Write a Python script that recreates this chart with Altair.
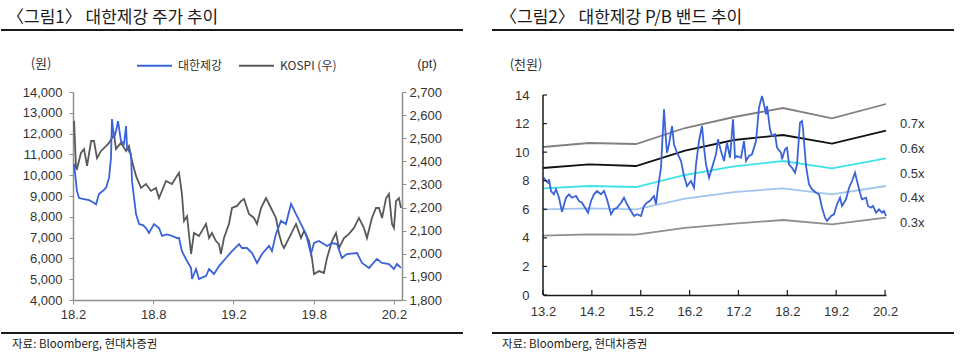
import altair as alt
import pandas as pd

FONT = "Liberation Sans, Noto Sans CJK KR"
KFONT = "Noto Sans CJK KR, Liberation Sans"

# ---------------- left chart data (decimal years) ----------------
stock_x = [2018.090, 2018.108, 2018.121, 2018.152, 2018.183, 2018.208, 2018.227, 2018.245, 2018.270, 2018.289,
           2018.308, 2018.320, 2018.326, 2018.339, 2018.351, 2018.364, 2018.382, 2018.401, 2018.414, 2018.420,
           2018.445, 2018.451, 2018.476, 2018.495, 2018.519, 2018.538, 2018.557, 2018.588, 2018.619, 2018.638,
           2018.669, 2018.700, 2018.731, 2018.744, 2018.762, 2018.787, 2018.819, 2018.825, 2018.850, 2018.868,
           2018.893, 2018.912, 2018.931, 2018.962, 2018.993, 2019.037, 2019.074, 2019.118, 2019.136, 2019.167,
           2019.199, 2019.230, 2019.261, 2019.305, 2019.323, 2019.348, 2019.379, 2019.410, 2019.442, 2019.473,
           2019.504, 2019.535, 2019.566, 2019.585, 2019.616, 2019.666, 2019.697, 2019.728, 2019.759, 2019.790,
           2019.853, 2019.884, 2019.928, 2019.977, 2020.009, 2020.052, 2020.083, 2020.102, 2020.127]
stock_v = [10540, 9240, 8900, 8850, 8800, 8700, 8600, 9100, 9250, 9400,
           9870, 10830, 12700, 11800, 12100, 12600, 11650, 11500, 12360, 11300,
           11000, 9720, 8130, 7650, 7600, 7460, 7220, 7650, 7460, 7080,
           7150, 7080, 6980, 6980, 6350, 5970, 5540, 5010, 5490, 5010,
           5100, 5150, 5490, 5250, 5630, 6020, 6350, 6690, 6500, 6500,
           6260, 5780, 6210, 6600, 6350, 7170, 7800, 7650, 8620, 8130,
           7650, 7170, 6210, 6740, 6840, 6600, 6740, 6690, 6020, 6210,
           6260, 5780, 5540, 5970, 5780, 5730, 5490, 5730, 5540]

kospi_x = [2018.090, 2018.102, 2018.108, 2018.133, 2018.152, 2018.171, 2018.196, 2018.214, 2018.233, 2018.258,
           2018.289, 2018.308, 2018.326, 2018.339, 2018.351, 2018.382, 2018.414, 2018.432, 2018.451, 2018.476,
           2018.507, 2018.538, 2018.569, 2018.600, 2018.619, 2018.663, 2018.700, 2018.731, 2018.744, 2018.762,
           2018.775, 2018.794, 2018.819, 2018.837, 2018.868, 2018.887, 2018.912, 2018.931, 2018.949, 2018.974,
           2018.993, 2019.005, 2019.024, 2019.055, 2019.074, 2019.105, 2019.130, 2019.149, 2019.180, 2019.211,
           2019.230, 2019.255, 2019.286, 2019.317, 2019.348, 2019.367, 2019.385, 2019.398, 2019.429, 2019.473,
           2019.504, 2019.523, 2019.554, 2019.572, 2019.585, 2019.616, 2019.647, 2019.666, 2019.697, 2019.722,
           2019.741, 2019.772, 2019.803, 2019.834, 2019.865, 2019.896, 2019.915, 2019.946, 2019.971, 2019.990,
           2020.009, 2020.034, 2020.052, 2020.071, 2020.083, 2020.096, 2020.114, 2020.127]
kospi_v = [2575, 2371, 2367, 2436, 2453, 2380, 2488, 2488, 2414, 2445,
           2466, 2480, 2501, 2518, 2453, 2480, 2445, 2466, 2401, 2337,
           2285, 2302, 2272, 2285, 2241, 2315, 2302, 2337, 2350, 2259,
           2142, 2163, 1999, 2090, 2077, 2099, 2129, 2068, 2090, 2055,
           2042, 1999, 2068, 2129, 2198, 2207, 2228, 2237, 2172, 2155,
           2129, 2198, 2241, 2198, 2155, 2086, 2042, 2025, 2068, 2129,
           2068, 2099, 2055, 1982, 1912, 1925, 1917, 1982, 2055, 2090,
           2025, 2068, 2086, 2112, 2155, 2112, 2068, 2155, 2198, 2198,
           2155, 2241, 2259, 2129, 2112, 2228, 2241, 2198]

left_xticks = [2018.0833, 2018.5833, 2019.0833, 2019.5833, 2020.0833]
left_yticks = list(range(4000, 14001, 1000))
right_axis_ticks = list(range(1800, 2701, 100))
series_names = ["대한제강", "KOSPI (우)"]

# ---------------- right chart data ----------------
pb_x = [2013.104, 2013.145, 2013.186, 2013.206, 2013.247, 2013.308, 2013.349, 2013.411, 2013.472, 2013.554,
        2013.615, 2013.677, 2013.759, 2013.820, 2013.881, 2013.963, 2014.004, 2014.066, 2014.127, 2014.188,
        2014.270, 2014.332, 2014.393, 2014.475, 2014.536, 2014.598, 2014.680, 2014.741, 2014.803, 2014.884,
        2014.946, 2015.007, 2015.089, 2015.150, 2015.212, 2015.273, 2015.355, 2015.396, 2015.427, 2015.498,
        2015.519, 2015.560, 2015.601, 2015.621, 2015.662, 2015.724, 2015.764, 2015.826, 2015.908, 2015.969,
        2016.031, 2016.112, 2016.174, 2016.215, 2016.276, 2016.338, 2016.378, 2016.419, 2016.481, 2016.542,
        2016.624, 2016.665, 2016.726, 2016.788, 2016.849, 2016.911, 2016.972, 2017.013, 2017.054, 2017.136,
        2017.197, 2017.238, 2017.299, 2017.361, 2017.443, 2017.504, 2017.565, 2017.606, 2017.647, 2017.668,
        2017.729, 2017.770, 2017.832, 2017.873, 2017.954, 2017.975, 2018.036, 2018.077, 2018.118, 2018.180,
        2018.241, 2018.282, 2018.343, 2018.384, 2018.405, 2018.466, 2018.527, 2018.589, 2018.671, 2018.732,
        2018.794, 2018.855, 2018.896, 2018.978, 2019.039, 2019.100, 2019.162, 2019.203, 2019.285, 2019.346,
        2019.408, 2019.469, 2019.510, 2019.571, 2019.612, 2019.694, 2019.735, 2019.796, 2019.837, 2019.899,
        2019.960, 2020.022, 2020.062, 2020.103]
pb_v = [8.21, 7.98, 7.86, 8.1, 7.28, 7.05, 7.4, 6.81, 5.83, 6.81,
        7.05, 6.81, 6.93, 6.58, 6.46, 6.0, 5.76, 6.58, 7.05, 7.28,
        7.05, 7.28, 6.7, 5.65, 6.0, 6.11, 6.46, 6.81, 6.35, 5.88,
        5.53, 5.65, 5.53, 6.23, 6.46, 6.6, 6.93, 6.35, 7.28, 8.91,
        10.31, 13.0, 10.78, 9.96, 10.55, 11.83, 10.55, 9.96, 9.38, 8.33,
        7.63, 7.98, 7.51, 9.15, 10.78, 11.83, 10.31, 9.15, 8.21, 8.91,
        9.85, 10.9, 10.08, 9.38, 10.66, 9.61, 12.3, 9.61, 9.73, 9.61,
        10.78, 9.38, 9.73, 9.85, 10.78, 13.12, 13.93, 13.35, 12.65, 13.23,
        11.6, 11.13, 11.25, 10.31, 9.96, 9.5, 10.2, 10.31, 9.15, 8.91,
        8.56, 9.15, 12.06, 12.18, 11.6, 9.03, 7.75, 7.4, 7.16, 7.05,
        6.11, 5.41, 5.18, 5.53, 5.65, 6.35, 6.81, 6.23, 6.7, 7.51,
        7.98, 8.56, 7.98, 7.16, 6.7, 6.81, 6.23, 6.11, 6.23, 5.76,
        6.0, 5.76, 5.88, 5.53]

band_x = [2013.0833, 2014.025, 2014.987, 2015.990, 2016.992, 2017.995, 2018.998, 2020.103]
band_07 = [10.36, 10.64, 10.57, 11.69, 12.46, 13.09, 12.36, 13.37]
band_06 = [8.89, 9.15, 9.03, 10.10, 10.85, 11.20, 10.60, 11.50]
band_05 = [7.47, 7.63, 7.56, 8.40, 9.00, 9.38, 8.87, 9.57]
band_04 = [6.00, 6.07, 6.00, 6.75, 7.20, 7.47, 7.05, 7.63]
band_03 = [4.15, 4.25, 4.22, 4.70, 5.00, 5.25, 4.95, 5.41]
band_names = ["0.7x", "0.6x", "0.5x", "0.4x", "0.3x"]
band_label_y = [12.0, 10.25, 8.5, 6.8, 5.05]
right_xticks = [2013.0833 + i for i in range(8)]
right_yticks = list(range(0, 15, 2))

BLUE = "#3b63d8"
KGRAY = "#595959"
BAND_COLORS = ["#808080", "#111111", "#3fe2ea", "#a0c6ee", "#8e8e8e"]

LW, LH = 329, 208
RW, RH = 343, 203

label_expr = ("format(floor(datum.value) % 100, '02d') + '.' + "
              "format(round((datum.value - floor(datum.value)) * 12) + 1, 'd')")


def txt(text, x, y, size, align="left", baseline="middle", color="#333", font=FONT):
    return alt.Chart(pd.DataFrame({"label": [text]})).mark_text(
        align=align, baseline=baseline, fontSize=size, font=font, color=color
    ).encode(x=alt.value(x), y=alt.value(y), text="label:N")


def hrule(x1, x2, y, color="#1a1a1a", width=2.0):
    return alt.Chart(pd.DataFrame({"a": [0]})).mark_rule(color=color, strokeWidth=width).encode(
        x=alt.value(x1), x2=alt.value(x2), y=alt.value(y))


# ---------------- left panel ----------------
lgray = "#8f8f8f"
xl = alt.X("t:Q", scale=alt.Scale(domain=[2018.0833, 2020.1333], nice=False, zero=False),
           axis=alt.Axis(values=left_xticks, labelExpr=label_expr, title=None, grid=False,
                         domainColor=lgray, domainWidth=1.5, tickColor=lgray, tickSize=4,
                         labelPadding=4, labelFlush=False, labelFontSize=13, labelColor="#333",
                         labelFont=FONT))
color_enc = alt.Color("series:N", scale=alt.Scale(domain=series_names, range=[BLUE, KGRAY]),
                      legend=alt.Legend(orient="none", legendX=63, legendY=-45, direction="horizontal",
                                        title=None, symbolType="stroke", symbolSize=1225,
                                        symbolStrokeWidth=2, labelFont=KFONT, labelFontSize=12,
                                        labelColor="#333", labelOffset=5, columnPadding=12, padding=0))

kdf = pd.DataFrame({"t": kospi_x, "v": kospi_v, "series": series_names[1]})
sdf = pd.DataFrame({"t": stock_x, "v": stock_v, "series": series_names[0]})

kospi_line = alt.Chart(kdf).mark_line(strokeWidth=1.8).encode(
    x=xl,
    y=alt.Y("v:Q", scale=alt.Scale(domain=[1800, 2700], nice=False, zero=False),
            axis=alt.Axis(orient="right", values=right_axis_ticks, format=",d", title=None, grid=False,
                          domainColor=lgray, domainWidth=1.5, tickColor=lgray, tickSize=4,
                          labelPadding=3, labelFontSize=13, labelColor="#333", labelFont=FONT)),
    color=color_enc)
stock_line = alt.Chart(sdf).mark_line(strokeWidth=1.8).encode(
    x=xl,
    y=alt.Y("v:Q", scale=alt.Scale(domain=[4000, 14000], nice=False, zero=False),
            axis=alt.Axis(orient="left", values=left_yticks, format=",d", title=None, grid=False,
                          domainColor=lgray, domainWidth=1.5, tickColor=lgray, tickSize=4,
                          labelPadding=7, labelFontSize=13, labelColor="#333", labelFont=FONT)),
    color=color_enc)

left_lines = alt.layer(kospi_line, stock_line).resolve_scale(y="independent")
left = alt.layer(
    left_lines,
    txt("〈그림1〉 대한제강 주가 추이", -66, -82, 17, baseline="top", color="#1a1a1a", font=KFONT),
    hrule(-72, 390, -62),
    hrule(-72, 390, 241),
    txt("자료: Bloomberg, 현대차증권", -61, 256, 11.5, baseline="alphabetic", color="#1a1a1a", font=KFONT),
    txt("(원)", -32, -28, 13, align="center", font=KFONT),
    txt("(pt)", 354, -28, 13, align="center"),
).properties(width=LW, height=LH)

# ---------------- right panel ----------------
xr = alt.X("t:Q", scale=alt.Scale(domain=[2013.0833, 2020.103], nice=False, zero=False),
           axis=alt.Axis(values=right_xticks, labelExpr=label_expr, title=None, grid=False,
                         domainColor="#1a1a1a", domainWidth=1.5, ticks=False, tickSize=0,
                         labelPadding=10, labelFlush=False, labelFontSize=13, labelColor="#333",
                         labelFont=FONT))
yr = alt.Y("v:Q", scale=alt.Scale(domain=[0, 14.21], nice=False, zero=False),
           axis=alt.Axis(values=right_yticks, title=None, grid=False, domain=False,
                         ticks=False, tickSize=0, labelPadding=14, labelFlush=False,
                         labelFontSize=13, labelColor="#333", labelFont=FONT))

band_vals = [band_07, band_06, band_05, band_04, band_03]
band_layers = []
for name, vals, col in zip(band_names, band_vals, BAND_COLORS):
    bdf = pd.DataFrame({"t": band_x, "v": vals, "band": name})
    band_layers.append(alt.Chart(bdf).mark_line(strokeWidth=1.8, color=col).encode(x=xr, y=yr))

pdf = pd.DataFrame({"t": pb_x, "v": pb_v})
pb_line = alt.Chart(pdf).mark_line(strokeWidth=1.8, color=BLUE).encode(x=xr, y=yr)

xt = alt.Chart(pd.DataFrame({"t": right_xticks})).mark_rule(color="#1a1a1a", strokeWidth=1.2).encode(
    x=xr, y=alt.value(RH - 5), y2=alt.value(RH))
yt = alt.Chart(pd.DataFrame({"v": right_yticks})).mark_rule(color="#1a1a1a", strokeWidth=1.2).encode(
    y=yr, x=alt.value(0), x2=alt.value(4))
yaxis_line = alt.Chart(pd.DataFrame({"v": [right_yticks[0]], "v2": [right_yticks[-1]]})).mark_rule(
    color="#1a1a1a", strokeWidth=1.5).encode(y=yr, y2="v2:Q", x=alt.value(0))

blab = alt.Chart(pd.DataFrame({"v": band_label_y, "label": band_names})).mark_text(
    align="left", baseline="middle", fontSize=13, font=FONT, color="#333"
).encode(x=alt.value(RW + 14), y=yr, text="label:N")

right = alt.layer(
    *band_layers, pb_line, xt, yt, yaxis_line, blab,
    txt("〈그림2〉 대한제강 P/B 밴드 추이", -43, -82, 17, baseline="top", color="#1a1a1a", font=KFONT),
    hrule(-51, 411, -62),
    hrule(-51, 411, 241),
    txt("자료: Bloomberg, 현대차증권", -41, 256, 11.5, baseline="alphabetic", color="#1a1a1a", font=KFONT),
    txt("(천원)", -17, -27, 13, align="center", font=KFONT),
).properties(width=RW, height=RH)

chart = alt.hconcat(left, right, spacing=27).resolve_scale(color="independent").properties(
    padding={"left": 0, "top": 9, "right": 0, "bottom": 0}, background="white"
).configure_view(stroke=None)

chart.save("out.html", embed_options={"renderer": "svg", "actions": False})
